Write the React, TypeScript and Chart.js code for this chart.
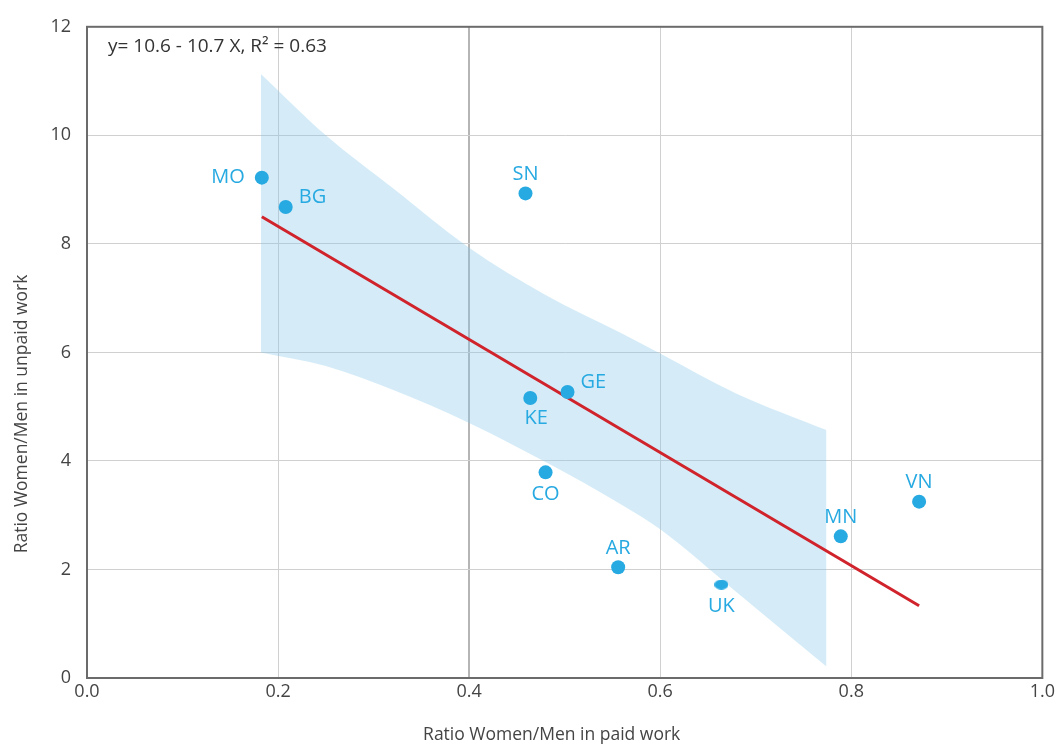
import React, { useEffect, useRef } from "react";
import { Chart, registerables } from "chart.js";

Chart.register(...registerables);

// ---- data ----
const countries = ["MO", "BG", "SN", "KE", "GE", "CO", "AR", "UK", "MN", "VN"];
const paidRatio = [0.183, 0.208, 0.459, 0.464, 0.503, 0.48, 0.556, 0.664, 0.789, 0.871];
const unpaidRatio = [9.22, 8.68, 8.93, 5.16, 5.27, 3.79, 2.04, 1.72, 2.61, 3.25];
const labelSide = ["left", "right", "top", "bottomright", "right", "bottom", "top", "bottom", "top", "top"];

const fitX = [0.183, 0.871];
const fitY = [8.5, 1.33];

const bandX = [0.182, 0.25, 0.32, 0.4, 0.48, 0.56, 0.6, 0.68, 0.774];
const bandUpper = [11.13, 10.0, 9.03, 7.93, 7.06, 6.35, 5.98, 5.24, 4.57];
const bandLower = [6.0, 5.75, 5.31, 4.7, 3.98, 3.19, 2.74, 1.58, 0.21];

const xTicks = [0, 0.2, 0.4, 0.6, 0.8, 1.0];
const yTicks = [0, 2, 4, 6, 8, 10, 12];

const equationText = "y= 10.6 - 10.7 X, R\u00B2 = 0.63";
const xTitle = "Ratio Women/Men in paid work";
const yTitle = "Ratio Women/Men in unpaid work";

const BLUE = "#27a9e1";
const FONT = "'Open Sans', sans-serif";

function makeEllipse(): HTMLCanvasElement {
  const c = document.createElement("canvas");
  c.width = 14;
  c.height = 10;
  const g = c.getContext("2d")!;
  g.fillStyle = BLUE;
  g.beginPath();
  g.ellipse(7, 5, 7, 5, 0, 0, Math.PI * 2);
  g.fill();
  return c;
}

const labelPlugin = {
  id: "pointLabels",
  afterDatasetsDraw(chart: any) {
    const ctx = chart.ctx;
    const meta = chart.getDatasetMeta(0);
    ctx.save();
    ctx.fillStyle = BLUE;
    ctx.font = `20px ${FONT}`;
    meta.data.forEach((el: any, i: number) => {
      const side = labelSide[i];
      let x = el.x;
      let y = el.y;
      ctx.textBaseline = "middle";
      if (side === "left") {
        ctx.textAlign = "right";
        x -= 17;
      } else if (side === "right") {
        ctx.textAlign = "left";
        x += 13;
        y -= 10;
      } else if (side === "top") {
        ctx.textAlign = "center";
        y -= 19;
      } else if (side === "bottom") {
        ctx.textAlign = "center";
        y += 22;
      } else if (side === "bottomright") {
        ctx.textAlign = "center";
        x += 6;
        y += 20;
      }
      ctx.fillText(countries[i], x, y);
    });
    ctx.restore();
  },
};

const framePlugin = {
  id: "frame",
  afterDraw(chart: any) {
    const { ctx, chartArea: a } = chart;
    ctx.save();
    ctx.strokeStyle = "#6b6b6b";
    ctx.lineWidth = 2;
    ctx.strokeRect(a.left, a.top, a.right - a.left, a.bottom - a.top);
    ctx.fillStyle = "#333";
    ctx.font = `19px ${FONT}`;
    ctx.textAlign = "left";
    ctx.textBaseline = "middle";
    ctx.fillText(equationText, a.left + 21, a.top + 20);
    // axis titles
    ctx.fillStyle = "#444";
    ctx.font = `17.5px ${FONT}`;
    ctx.textAlign = "center";
    ctx.fillText(xTitle, (a.left + a.right) / 2 - 13, 735);
    ctx.translate(22, 414);
    ctx.rotate(-Math.PI / 2);
    ctx.fillText(yTitle, 0, 0);
    ctx.restore();
  },
};

export default function App() {
  const ref = useRef<HTMLCanvasElement>(null);

  useEffect(() => {
    document.body.style.margin = "0";
    const ellipse = makeEllipse();
    const pointStyles = countries.map((c) => (c === "UK" ? ellipse : "circle"));
    const chart = new Chart(ref.current!, {
      type: "scatter",
      data: {
        datasets: [
          {
            label: "countries",
            data: paidRatio.map((x, i) => ({ x, y: unpaidRatio[i] })),
            backgroundColor: BLUE,
            borderColor: BLUE,
            borderWidth: 0,
            pointRadius: 7,
            pointStyle: pointStyles as any,
            order: 0,
          },
          {
            label: "fit",
            data: fitX.map((x, i) => ({ x, y: fitY[i] })),
            showLine: true,
            borderColor: "#d0232b",
            borderWidth: 3,
            pointRadius: 0,
            order: 1,
          },
          {
            label: "upper",
            data: bandX.map((x, i) => ({ x, y: bandUpper[i] })),
            showLine: true,
            borderWidth: 0,
            borderColor: "rgba(0,0,0,0)",
            pointRadius: 0,
            fill: "+1",
            backgroundColor: "rgba(135,200,236,0.35)",
            cubicInterpolationMode: "monotone",
            order: 2,
          },
          {
            label: "lower",
            data: bandX.map((x, i) => ({ x, y: bandLower[i] })),
            showLine: true,
            borderWidth: 0,
            borderColor: "rgba(0,0,0,0)",
            pointRadius: 0,
            cubicInterpolationMode: "monotone",
            order: 3,
          },
        ],
      },
      options: {
        animation: false,
        responsive: false,
        layout: { padding: { left: 0, right: 15, top: 20, bottom: 0 } },
        plugins: { legend: { display: false }, tooltip: { enabled: false } },
        scales: {
          x: {
            type: "linear",
            min: 0,
            max: 1,
            afterFit: (s: any) => {
              s.height = 67;
            },
            afterBuildTicks: (s: any) => {
              s.ticks = xTicks.map((v) => ({ value: v }));
            },
            ticks: {
              padding: 3,
              color: "#444",
              font: { family: FONT, size: 18 },
              callback: (v: any) => Number(v).toFixed(1),
            },
            grid: {
              drawTicks: false,
              color: (c: any) => (c.tick && Math.abs(c.tick.value - 0.4) < 1e-6 ? "#b5b5b5" : "#d0d0d0"),
              lineWidth: (c: any) => (c.tick && Math.abs(c.tick.value - 0.4) < 1e-6 ? 2 : 1),
            },
            border: { color: "#6b6b6b", width: 2 },
            title: { display: false },
          },
          y: {
            type: "linear",
            min: 0,
            max: 12,
            afterFit: (s: any) => {
              s.width = 87;
            },
            afterBuildTicks: (s: any) => {
              s.ticks = yTicks.map((v) => ({ value: v }));
            },
            ticks: {
              padding: 16,
              color: "#444",
              font: { family: FONT, size: 18 },
            },
            grid: { drawTicks: false, color: "#d0d0d0", lineWidth: 1 },
            border: { color: "#6b6b6b", width: 2 },
            title: { display: false },
          },
        },
      },
      plugins: [labelPlugin, framePlugin],
    } as any);
    return () => chart.destroy();
  }, []);

  return <canvas ref={ref} width={1058} height={745} style={{ display: "block" }} />;
}
